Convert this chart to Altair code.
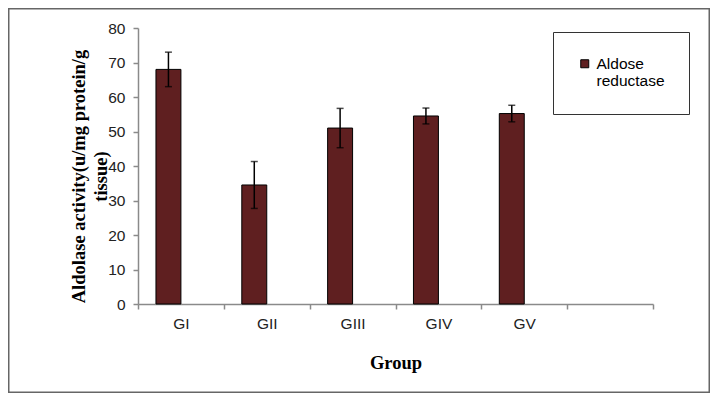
import altair as alt
import pandas as pd

groups = ["GI", "GII", "GIII", "GIV", "GV"]
means = [68.0, 34.5, 51.0, 54.5, 55.2]
errors = [5.0, 6.8, 5.7, 2.3, 2.4]
series_name = "Aldose reductase"
x_domain = groups + [" "]
y_ticks = [0, 10, 20, 30, 40, 50, 60, 70, 80]
y_title = ["Aldolase activity(u/mg protein/g", "tissue)"]
x_title = "Group"

df = pd.DataFrame({"group": groups, "mean": means, "err": errors})
df["series"] = series_name
df["lo"] = df["mean"] - df["err"]
df["hi"] = df["mean"] + df["err"]

bar_color = "#5f1f20"
axis_gray = "#8a8a8a"

xscale = alt.Scale(domain=x_domain, paddingInner=0, paddingOuter=0)
yscale = alt.Scale(domain=[0, 80], nice=False)
xoff = alt.XOffset("series:N", scale=alt.Scale(domain=[series_name, "_"], paddingInner=0, paddingOuter=0.72))

x_axis = alt.Axis(
    tickBand="extent", labelAngle=0, labelPadding=7, titlePadding=22,
    titleFont="Liberation Serif", titleFontSize=18.5, titleFontWeight="bold", titleColor="#000",
)
y_axis = alt.Axis(
    values=y_ticks, tickCount=9, grid=False, labelPadding=8, labelOverlap=False,
    titleFont="Liberation Serif", titleFontSize=18.5, titleFontWeight="bold", titleColor="#000",
    titleX=-69, titleY=148, titleBaseline="top", titleAlign="center", titleLineHeight=22,
)


def xe():
    return alt.X("group:N", scale=xscale, sort=x_domain, title=x_title, axis=x_axis)


def ye(field):
    return alt.Y(field, scale=yscale, title=y_title, axis=y_axis)


base = alt.Chart(df)

bars = base.mark_bar(stroke="#000", strokeWidth=1).encode(
    x=xe(),
    xOffset=xoff,
    y=ye("mean:Q"),
    color=alt.Color(
        "series:N",
        scale=alt.Scale(domain=[series_name], range=[bar_color]),
        legend=alt.Legend(
            title=None, orient="none", legendX=415, legendY=4,
            labelExpr="['Aldose', 'reductase']",
            symbolType="square", symbolSize=64, symbolStrokeColor="#000", symbolStrokeWidth=1,
            labelFont="Liberation Sans", labelFontSize=15.5, labelColor="#000", labelLimit=200,
            strokeColor="#333", padding=24, fillColor="white",
        ),
    ),
)

rules = base.mark_rule(color="#000", strokeWidth=1.5).encode(
    x=xe(), xOffset=xoff, y=ye("lo:Q"), y2="hi:Q",
)

caps_hi = base.mark_tick(color="#000", thickness=1.5, size=7).encode(
    x=xe(), xOffset=xoff, y=ye("hi:Q"),
)
caps_lo = base.mark_tick(color="#000", thickness=1.5, size=7).encode(
    x=xe(), xOffset=xoff, y=ye("lo:Q"),
)

frame = alt.Chart(pd.DataFrame({"k": [0]})).mark_rect(fill=None, stroke="#666", strokeWidth=1.5).encode(
    x=alt.value(-129.25), x2=alt.value(571.25), y=alt.value(-19.25), y2=alt.value(364.25)
)

chart = alt.layer(frame, bars, rules, caps_hi, caps_lo).properties(
    width=515, height=276,
    padding={"left": 130, "top": 20, "right": 57, "bottom": 89},
    autosize=alt.AutoSizeParams(type="none"),
).configure_view(stroke=None).configure_axis(
    domainColor=axis_gray, tickColor=axis_gray, domainWidth=1.5, tickWidth=1.5, tickSize=5,
    labelFont="Liberation Sans", labelFontSize=15.5, labelColor="#222",
)

chart.save("out.html", embed_options={"renderer": "svg", "actions": False})
